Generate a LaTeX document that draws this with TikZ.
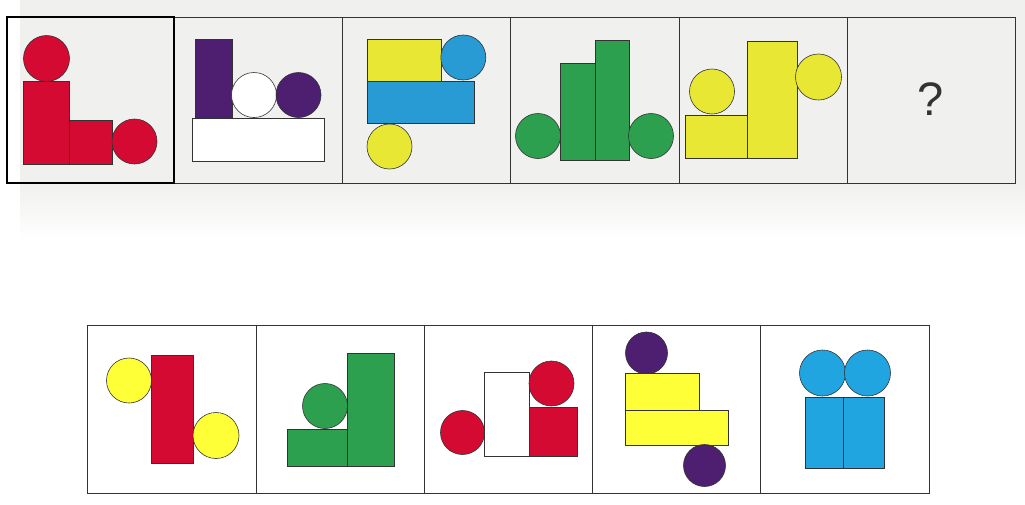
\documentclass[tikz,border=0pt]{standalone}
\usepackage{fontspec}
\setmainfont{Liberation Sans}
\definecolor{cred}{RGB}{212,10,50}
\definecolor{cpur}{RGB}{78,30,112}
\definecolor{cblue}{RGB}{40,155,212}
\definecolor{cblueb}{RGB}{32,165,225}
\definecolor{cyel}{RGB}{232,232,52}
\definecolor{cyelb}{RGB}{255,255,55}
\definecolor{cgreen}{RGB}{44,160,78}
\definecolor{bgtop}{RGB}{240,240,238}
\begin{document}
\begin{tikzpicture}[x=1pt,y=-1pt,
  shp/.style={draw=black!80,line width=0.6pt},
  frame/.style={draw=black!80,line width=1pt},
  sel/.style={draw=black,line width=2pt}]
\useasboundingbox (0,0) rectangle (1025,504);
\fill[white] (0,0) rectangle (1025,504);
\fill[bgtop] (20,0) rectangle (1025,183);
\shade[top color=bgtop,bottom color=white] (20,183) rectangle (1025,240);
% top row frames
\foreach \a/\b in {174/342,342/510,510/679,679/847,847/1015}
  \draw[frame] (\a,17) rectangle (\b,183);
% panel 1
\draw[shp,fill=cred] (23,81) rectangle (69,164);
\draw[shp,fill=cred] (69,120) rectangle (112,164);
\draw[shp,fill=cred] (46.5,58.5) circle[radius=23pt];
\draw[shp,fill=cred] (134.5,141.5) circle[radius=22.5pt];
\draw[sel] (7,17) rectangle (174,183);
% panel 2
\draw[shp,fill=cpur] (195,39) rectangle (232,118);
\draw[shp,fill=white] (254,95) circle[radius=22.5pt];
\draw[shp,fill=cpur] (298.5,95) circle[radius=22.5pt];
\draw[shp,fill=white] (192,118) rectangle (324,161);
% panel 3
\draw[shp,fill=cyel] (367.5,39) rectangle (441,81);
\draw[shp,fill=cblue] (463.3,57.5) circle[radius=22.5pt];
\draw[shp,fill=cblue] (367,81) rectangle (474,123);
\draw[shp,fill=cyel] (389.5,146.5) circle[radius=22.5pt];
% panel 4
\draw[shp,fill=cgreen] (538,136) circle[radius=22.5pt];
\draw[shp,fill=cgreen] (560,63) rectangle (595,160);
\draw[shp,fill=cgreen] (595,40) rectangle (629,160);
\draw[shp,fill=cgreen] (651,136) circle[radius=22.5pt];
% panel 5
\draw[shp,fill=cyel] (685,115) rectangle (747,158);
\draw[shp,fill=cyel] (712,91.5) circle[radius=22.5pt];
\draw[shp,fill=cyel] (747,41) rectangle (797,158);
\draw[shp,fill=cyel] (818.5,77) circle[radius=23pt];
% panel 6
\node[text=black!80,font=\fontsize{47}{47}\selectfont] (q) at (931,99) {?};
% bottom row frames
\foreach \a/\b in {87/256,256/424,424/592,592/760,760/929}
  \draw[frame] (\a,325) rectangle (\b,493);
% A
\draw[shp,fill=cyelb] (129,380.5) circle[radius=22.5pt];
\draw[shp,fill=cred] (151,355) rectangle (193,463);
\draw[shp,fill=cyelb] (216,435.5) circle[radius=23pt];
% B
\draw[shp,fill=cgreen] (287,429) rectangle (347,466);
\draw[shp,fill=cgreen] (325,406) circle[radius=22.5pt];
\draw[shp,fill=cgreen] (347,353) rectangle (394,466);
% C
\draw[shp,fill=cred] (462.5,432.5) circle[radius=22pt];
\draw[shp,fill=white] (484,372) rectangle (529,456);
\draw[shp,fill=cred] (551.5,383.5) circle[radius=22.5pt];
\draw[shp,fill=cred] (529,407) rectangle (577,456);
% D
\draw[shp,fill=cpur] (646.5,353) circle[radius=21pt];
\draw[shp,fill=cyelb] (625,373) rectangle (699,410);
\draw[shp,fill=cyelb] (625,410) rectangle (728,445);
\draw[shp,fill=cpur] (704.5,465.5) circle[radius=21pt];
% E
\draw[shp,fill=cblueb] (805,397) rectangle (843,468);
\draw[shp,fill=cblueb] (843,397) rectangle (884,468);
\draw[shp,fill=cblueb] (822.5,373) circle[radius=23pt];
\draw[shp,fill=cblueb] (867.5,373) circle[radius=23pt];
\end{tikzpicture}
\end{document}
